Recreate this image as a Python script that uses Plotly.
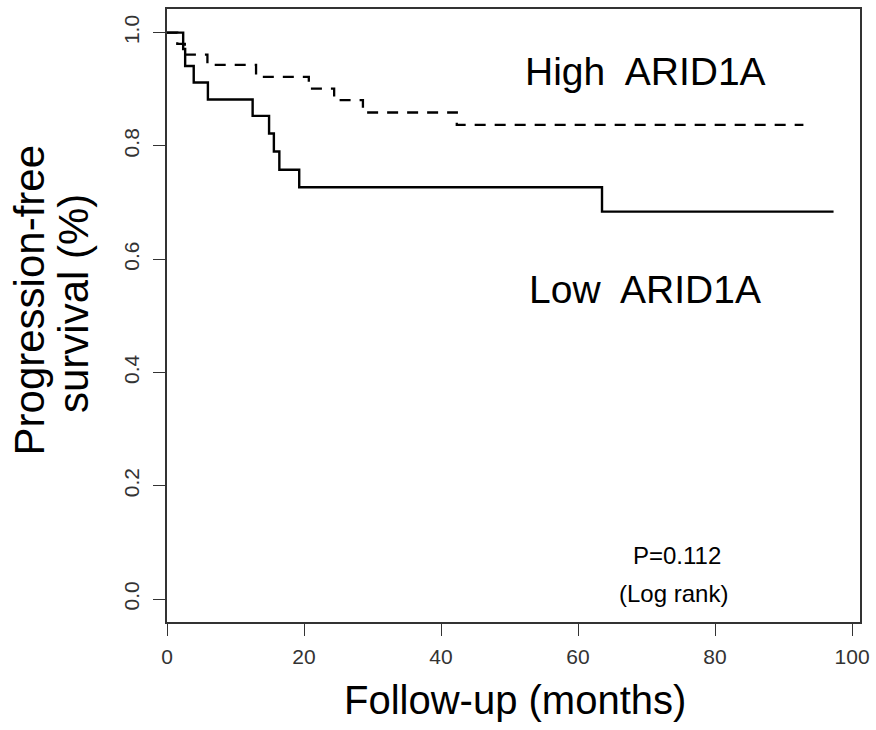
import plotly.graph_objects as go

# Kaplan-Meier step data
low_months = [0, 2.36, 2.65, 3.9, 5.97, 12.5, 14.9, 15.6, 16.4, 19.3, 63.5, 97.3]
low_surv = [1.0, 0.971, 0.941, 0.912, 0.882, 0.853, 0.822, 0.790, 0.758, 0.727, 0.684, 0.684]

high_months = [0, 1.5, 2.6, 5.9, 13.0, 20.7, 24.4, 28.6, 42.3, 92.9]
high_surv = [1.0, 0.980, 0.961, 0.943, 0.922, 0.901, 0.881, 0.859, 0.837, 0.837]

x_ticks = [0, 20, 40, 60, 80, 100]
y_ticks = [0.0, 0.2, 0.4, 0.6, 0.8, 1.0]
y_tick_labels = ["0.0", "0.2", "0.4", "0.6", "0.8", "1.0"]

FONT = "Liberation Sans, Arial, sans-serif"

fig = go.Figure()
fig.add_trace(go.Scatter(x=high_months, y=high_surv, mode="lines", line_shape="hv",
                         line=dict(color="black", width=2.3, dash="11px,9px"),
                         name="High ARID1A", showlegend=False))
fig.add_trace(go.Scatter(x=low_months, y=low_surv, mode="lines", line_shape="hv",
                         line=dict(color="black", width=2.4),
                         name="Low ARID1A", showlegend=False))

axis_common = dict(showline=True, mirror=True, linecolor="#333", linewidth=1.5,
                   ticks="outside", ticklen=12, tickwidth=1.3, tickcolor="#333",
                   showgrid=False, zeroline=False, ticklabeloverflow="allow",
                   tickfont=dict(family=FONT, size=21, color="#333"))

fig.update_xaxes(range=[0, 101.16], tickvals=x_ticks, ticklabelstandoff=3, **axis_common)
fig.update_yaxes(range=[-0.0405, 1.0417], tickvals=y_ticks, ticktext=y_tick_labels,
                 tickangle=-90, ticklabelstandoff=6, **axis_common)

def px_x(px):
    return (px - 167) / 700.0

def px_y(py):
    return 1 - (py - 7) / 615.0

annots = [
    dict(text="High  ARID1A", x=px_x(650), y=px_y(70), size=39),
    dict(text="Low  ARID1A", x=px_x(650), y=px_y(288), size=39),
    dict(text="P=0.112", x=px_x(682), y=px_y(555), size=24),
    dict(text="(Log rank)", x=px_x(679), y=px_y(593), size=24),
    dict(text="Follow-up (months)", x=px_x(519), y=px_y(700), size=40),
]
for a in annots:
    fig.add_annotation(text=a["text"], x=a["x"], y=a["y"], xref="paper", yref="paper",
                       showarrow=False, xanchor="center", yanchor="middle",
                       font=dict(family=FONT, size=a["size"], color="black"))

fig.add_annotation(text="Progression-free", x=px_x(28), y=px_y(299), xref="paper", yref="paper",
                   showarrow=False, textangle=-90, xanchor="center", yanchor="middle",
                   font=dict(family=FONT, size=42, color="black"))
fig.add_annotation(text="survival (%)", x=px_x(72), y=px_y(302), xref="paper", yref="paper",
                   showarrow=False, textangle=-90, xanchor="center", yanchor="middle",
                   font=dict(family=FONT, size=42, color="black"))

fig.update_layout(width=876, height=730, margin=dict(l=167, r=9, t=7, b=108),
                  paper_bgcolor="white", plot_bgcolor="white")

fig.write_html("out.html", config={"displayModeBar": False},
               post_script="document.body.style.margin='0';document.body.style.overflow='hidden';")
